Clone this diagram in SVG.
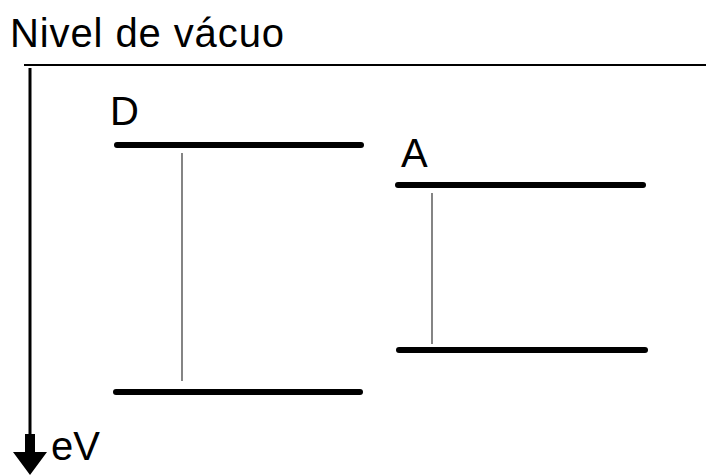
<svg xmlns="http://www.w3.org/2000/svg" width="706" height="475" viewBox="0 0 706 475">
  <style>
    .lbl { font-family: "Liberation Sans", Arial, sans-serif; font-size: 40px; fill: #000; }
    .level { stroke: #000; stroke-width: 6; stroke-linecap: round; fill: none; }
    .gap { stroke: #666; stroke-width: 1.6; fill: none; }
    .axis { stroke: #000; fill: none; }
  </style>
  <rect width="706" height="475" fill="#fff"/>

  <!-- vacuum level and energy axis -->
  <g id="connectors">
    <line class="axis" x1="24" y1="65" x2="706" y2="65" stroke-width="2"/>
    <line class="axis" x1="30" y1="68" x2="30" y2="440" stroke-width="3"/>
    <polygon points="25,434 35,434 35,452 47,452 30,475 13,452 25,452" fill="#000"/>
  </g>

  <g id="vacuum-label">
    <text class="lbl" x="10" y="47" letter-spacing="0.9">Nivel de vácuo</text>
  </g>
  <g id="axis-label">
    <text class="lbl" x="51" y="460">eV</text>
  </g>

  <!-- donor levels -->
  <g id="donor">
    <text class="lbl" x="110" y="125">D</text>
    <line class="level" x1="117" y1="145" x2="361" y2="145"/>
    <line class="level" x1="116" y1="392" x2="360" y2="392"/>
    <line class="gap" x1="182" y1="153" x2="182" y2="381"/>
  </g>

  <!-- acceptor levels -->
  <g id="acceptor">
    <text class="lbl" x="401" y="167">A</text>
    <line class="level" x1="398" y1="185" x2="643" y2="185"/>
    <line class="level" x1="399" y1="350" x2="645" y2="350"/>
    <line class="gap" x1="432" y1="193" x2="432" y2="344"/>
  </g>
</svg>
